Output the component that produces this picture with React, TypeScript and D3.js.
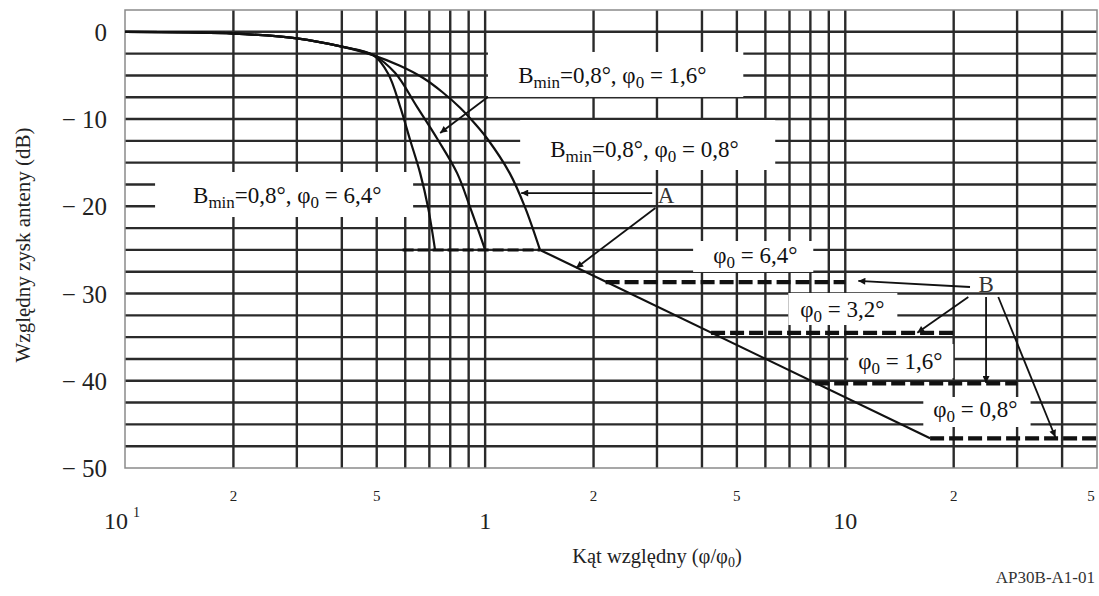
import React from "react";
import * as d3 from "d3";

// ---------- data (x = relative angle φ/φ0, y = relative gain dB) ----------
const commonBeam: [number, number][] = [
  [0.1, 0], [0.15, -0.08], [0.2, -0.2], [0.3, -0.75], [0.4, -1.7], [0.49, -2.7],
];
const beamPhi08: [number, number][] = [
  [0.49, -2.7], [0.58, -3.9], [0.673, -5.3], [0.76, -6.9], [0.852, -8.7], [0.94, -10.6],
  [1.02, -12.4], [1.17, -16.2], [1.29, -20.1], [1.42, -25],
];
const beamPhi16: [number, number][] = [
  [0.49, -2.7], [0.562, -4.7], [0.647, -8.6], [0.74, -12.4], [0.836, -16.2], [0.908, -20.1], [1.0, -25],
];
const beamPhi64: [number, number][] = [
  [0.49, -2.7], [0.538, -4.8], [0.581, -8.6], [0.619, -12.4], [0.66, -16.2], [0.694, -20.1], [0.726, -25],
];
const sidelobe: [number, number][] = [[1.42, -25], [17.2, -46.6]];

const floor25: [number, number][] = [[0.59, -25], [1.42, -25]];
const floorLevels = [-28.7, -34.5, -40.3, -46.6];
const floorStarts = [2.16, 4.24, 8.25, 17.2];
const floorEnds = [10, 20, 30, 50];

const yTickValues = [0, -10, -20, -30, -40, -50];
const yTickLabels = ["0", "\u2212 10", "\u2212 20", "\u2212 30", "\u2212 40", "\u2212 50"];
const xMinorValues = [0.2, 0.5, 2, 5, 20, 50];
const xMinorLabels = ["2", "5", "2", "5", "2", "5"];
const xMajorValues = [0.1, 1, 10];
const xMajorLabels = ["10", "1", "10"];
const xMajorSup = ["1", "", ""];

// label boxes: [x1, x2, top dB, bottom dB], text anchor [x, dB], text
const boxRanges: [number, number, number, number][] = [
  [0.1212, 0.631, -16.07, -21.23],
  [1.018, 5.21, -2.31, -7.47],
  [1.251, 6.39, -10.11, -15.84],
  [3.78, 8.15, -23.98, -27.53],
  [6.95, 13.95, -29.94, -33.61],
  [10.19, 19.95, -35.79, -39.68],
  [16.47, 32.7, -41.86, -45.3],
];
const boxTextPos: [number, number][] = [
  [0.1545, -19.62], [1.235, -5.87], [1.516, -14.35], [4.3, -26.5], [7.5, -32.69], [10.87, -38.65], [17.56, -44.15],
];
const boxTexts = [
  "B_{min}=0,8°, φ_{0} = 6,4°",
  "B_{min}=0,8°, φ_{0} = 1,6°",
  "B_{min}=0,8°, φ_{0} = 0,8°",
  "φ_{0} = 6,4°",
  "φ_{0} = 3,2°",
  "φ_{0} = 1,6°",
  "φ_{0} = 0,8°",
];

const arrowFrom: [number, number][] = [
  [1.018, -7.47], [2.91, -18.48], [2.97, -20.2], [22.2, -29.25], [21.96, -30.4], [24.6, -30.4], [26.6, -30.4],
];
const arrowTo: [number, number][] = [
  [0.75, -11.6], [1.259, -18.48], [1.789, -27.07], [10.87, -28.56], [15.85, -34.5], [24.6, -40.26], [38.3, -46.45],
];
const letterText = ["A", "B"];
const letterPos: [number, number][] = [[3.18, -19.6], [24.6, -29.8]];

const FONT = "'Liberation Serif','Times New Roman',Times,serif";

function rich(s: string, subSize: number, shift: number) {
  const parts = s.split(/_\{([^}]*)\}/);
  const out: React.ReactNode[] = [];
  let prevSub = false;
  parts.forEach((p, i) => {
    const isSub = i % 2 === 1;
    if (p === "") return;
    if (isSub) {
      out.push(
        <tspan key={i} fontSize={subSize} dy={shift}>
          {p}
        </tspan>
      );
      prevSub = true;
    } else {
      out.push(
        <tspan key={i} dy={prevSub ? -shift : 0}>
          {p}
        </tspan>
      );
      prevSub = false;
    }
  });
  return out;
}

export default function App() {
  const x = d3.scaleLog().domain([0.1, 50]).range([125, 1097]);
  const y = d3.scaleLinear().domain([-50, 2.5]).range([468, 10]);
  const curve = d3
    .line<[number, number]>()
    .x((d) => x(d[0]))
    .y((d) => y(d[1]))
    .curve(d3.curveCatmullRom.alpha(0.5));
  const straight = d3
    .line<[number, number]>()
    .x((d) => x(d[0]))
    .y((d) => y(d[1]));

  const vGrid = x.ticks().filter((v) => v > 0.1 && v < 50);
  const hGrid = d3.range(-47.5, 2.4, 2.5);
  const gridColor = "#2a2a2a";

  const beams = [beamPhi64, beamPhi16, beamPhi08].map((b) => commonBeam.concat(b.slice(1)));

  return (
    <svg
      width={1099}
      height={596}
      style={{ position: "absolute", left: 0, top: 0, background: "#fff" }}
      fontFamily={FONT}
    >
      <defs>
        <marker
          id="ah"
          viewBox="0 0 10 10"
          refX={10}
          refY={5}
          markerWidth={15}
          markerHeight={7}
          markerUnits="userSpaceOnUse"
          orient="auto"
        >
          <path d="M0,0 L10,5 L0,10 Z" fill="#111" />
        </marker>
      </defs>
      <rect x={0} y={0} width={1099} height={596} fill="#fff" />

      {/* grid */}
      <g stroke={gridColor} strokeWidth={2.4}>
        {vGrid.map((v) => (
          <line key={"v" + v} x1={x(v)} x2={x(v)} y1={y(2.5)} y2={y(-50)} />
        ))}
        {hGrid.map((v) => (
          <line key={"h" + v} x1={x(0.1)} x2={x(50)} y1={y(v)} y2={y(v)} />
        ))}
      </g>
      <rect
        x={x(0.1)}
        y={y(2.5)}
        width={x(50) - x(0.1)}
        height={y(-50) - y(2.5)}
        fill="none"
        stroke="#8a8a8a"
        strokeWidth={1.5}
      />

      {/* white label boxes */}
      {boxRanges.map((b, i) => (
        <rect
          key={"box" + i}
          x={x(b[0])}
          y={y(b[2])}
          width={x(b[1]) - x(b[0])}
          height={y(b[3]) - y(b[2])}
          fill="#fff"
        />
      ))}

      {/* curves */}
      <g fill="none" stroke="#111" strokeWidth={2.2}>
        {beams.map((b, i) => (
          <path key={"beam" + i} d={curve(b) || ""} />
        ))}
        <path d={straight(sidelobe) || ""} />
      </g>
      <path d={straight(floor25) || ""} fill="none" stroke="#111" strokeWidth={3} strokeDasharray="11,4" />
      {floorLevels.map((lv, i) => (
        <path
          key={"fl" + i}
          d={
            straight([
              [floorStarts[i], lv],
              [floorEnds[i], lv],
            ]) || ""
          }
          fill="none"
          stroke="#111"
          strokeWidth={4.2}
          strokeDasharray="14,5"
        />
      ))}

      {/* arrows */}
      <g stroke="#111" strokeWidth={1.8} fill="none">
        {arrowFrom.map((f, i) => (
          <line
            key={"ar" + i}
            x1={x(f[0])}
            y1={y(f[1])}
            x2={x(arrowTo[i][0])}
            y2={y(arrowTo[i][1])}
            markerEnd="url(#ah)"
          />
        ))}
      </g>
      {letterText.map((t, i) => (
        <text
          key={"lt" + i}
          x={x(letterPos[i][0])}
          y={y(letterPos[i][1])}
          textAnchor="middle"
          fontSize={23}
          fill="#333"
        >
          {t}
        </text>
      ))}

      {/* box texts */}
      {boxTexts.map((t, i) => (
        <text
          key={"bt" + i}
          x={x(boxTextPos[i][0])}
          y={y(boxTextPos[i][1])}
          fontSize={23}
          fill="#111"
        >
          {rich(t, 17, 5)}
        </text>
      ))}

      {/* y tick labels */}
      {yTickValues.map((v, i) => (
        <text
          key={"yt" + i}
          x={107}
          y={y(v) + 9}
          textAnchor="end"
          fontSize={25}
          fill="#222"
        >
          {yTickLabels[i]}
        </text>
      ))}

      {/* x tick labels */}
      {xMinorValues.map((v, i) => (
        <text key={"xm" + i} x={Math.min(x(v), 1091)} y={501} textAnchor="middle" fontSize={15} fill="#222">
          {xMinorLabels[i]}
        </text>
      ))}
      {xMajorValues.map((v, i) => (
        <text key={"xM" + i} x={x(v) - (xMajorSup[i] ? 3 : 0)} y={529} textAnchor="middle" fontSize={24} fill="#222">
          {xMajorLabels[i]}
          {xMajorSup[i] ? (
            <tspan fontSize={14} dx={5} dy={-12}>
              {xMajorSup[i]}
            </tspan>
          ) : null}
        </text>
      ))}

      {/* axis titles */}
      <text transform="translate(30,245) rotate(-90)" textAnchor="middle" fontSize={21} fill="#222">
        Względny zysk anteny (dB)
      </text>
      <text x={657} y={563} textAnchor="middle" fontSize={20.5} fill="#222">
        {rich("Kąt względny (φ/φ_{0})", 14, 4)}
      </text>
      <text x={1095} y={583} textAnchor="end" fontSize={17} fill="#333">
        AP30B-A1-01
      </text>
    </svg>
  );
}
